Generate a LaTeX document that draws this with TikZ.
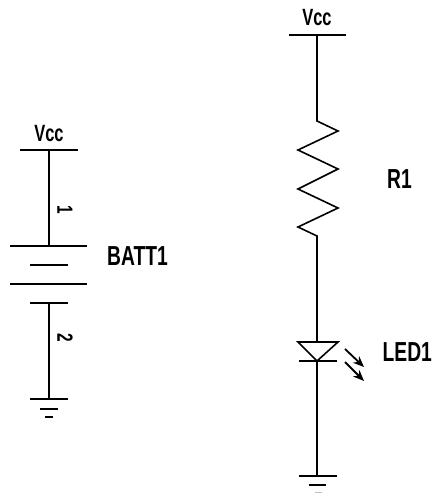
\documentclass[tikz,border=0pt]{standalone}
\usepackage{fontspec}
\setmainfont[FakeStretch=0.7,BoldFont={Liberation Sans Bold},BoldFeatures={FakeStretch=0.7}]{Liberation Sans}
\usetikzlibrary{arrows.meta}
\tikzset{
  wire/.style={draw=black,line width=1.6pt},
  lbl/.style={inner sep=0pt,font=\bfseries\fontsize{27.5}{28}\selectfont,anchor=west},
  vcc/.style={inner sep=0pt,font=\bfseries\fontsize{23.5}{24}\selectfont},
  pin/.style={inner sep=0pt,font=\bfseries\fontsize{22}{22}\selectfont,rotate=-90},
  ray/.style={draw=black,line width=1.8pt,-{Stealth[length=11pt,width=9pt]}}
}
\begin{document}
\begin{tikzpicture}[x=1pt,y=-1pt]
\useasboundingbox (0,0) rectangle (434,493);
% battery
\coordinate (lvl) at (20,150); \coordinate (lvr) at (78,150); \coordinate (lvm) at (49,150);
\coordinate (b1l) at (10,246); \coordinate (b1r) at (87,246); \coordinate (b1m) at (49,246);
\coordinate (b2l) at (30,265); \coordinate (b2r) at (68,265);
\coordinate (b3l) at (10,284); \coordinate (b3r) at (87,284);
\coordinate (b4l) at (30,303); \coordinate (b4r) at (68,303); \coordinate (b4m) at (49,303);
\coordinate (g1l) at (30,399); \coordinate (g1r) at (68,399); \coordinate (g1m) at (49,399);
\coordinate (g2l) at (40,409); \coordinate (g2r) at (58,409);
\coordinate (g3l) at (45,417); \coordinate (g3r) at (53,417);
\node[vcc] (vccl) at (49,134) {Vcc};
\node[pin] (pin1) at (65,210) {1};
\node[pin] (pin2) at (65,338) {2};
\node[lbl] (batt) at (107,256) {BATT1};
\draw[wire] (lvl) -- (lvr);
\draw[wire] (lvm) -- (b1m);
\draw[wire] (b1l) -- (b1r);
\draw[wire] (b2l) -- (b2r);
\draw[wire] (b3l) -- (b3r);
\draw[wire] (b4l) -- (b4r);
\draw[wire] (b4m) -- (g1m);
\draw[wire] (g1l) -- (g1r);
\draw[wire] (g2l) -- (g2r);
\draw[wire] (g3l) -- (g3r);
% LED branch
\coordinate (rvl) at (289,35); \coordinate (rvr) at (346,35); \coordinate (rvm) at (317,35);
\coordinate (r0) at (317,121); \coordinate (r1) at (338,131); \coordinate (r2) at (298,150);
\coordinate (r3) at (338,169); \coordinate (r4) at (298,189); \coordinate (r5) at (338,208);
\coordinate (r6) at (298,227); \coordinate (r7) at (317,236);
\coordinate (tm) at (317,342); \coordinate (tl) at (298,342); \coordinate (tr) at (338,342);
\coordinate (tb) at (317,361); \coordinate (cl) at (299,361); \coordinate (cr) at (337,361);
\coordinate (a1s) at (345,349); \coordinate (a1e) at (364,367);
\coordinate (a2s) at (345,362); \coordinate (a2e) at (364,381);
\coordinate (h1l) at (299,476); \coordinate (h1r) at (337,476); \coordinate (h1m) at (317,476);
\coordinate (h2l) at (309,485); \coordinate (h2r) at (326,485);
\coordinate (h3l) at (315,492.6); \coordinate (h3r) at (322,492.6);
\node[vcc] (vccr) at (317,18) {Vcc};
\node[lbl] (r1lbl) at (387,179) {R1};
\node[lbl] (led) at (382.5,352) {LED1};
\draw[wire] (rvl) -- (rvr);
\draw[wire,line join=miter] (rvm) -- (r0) -- (r1) -- (r2) -- (r3) -- (r4) -- (r5) -- (r6) -- (r7) -- (tm);
\draw[wire] (tl) -- (tr) -- (tb) -- cycle;
\draw[wire] (cl) -- (cr);
\draw[wire] (tb) -- (h1m);
\draw[ray] (a1s) -- (a1e);
\draw[ray] (a2s) -- (a2e);
\draw[wire] (h1l) -- (h1r);
\draw[wire] (h2l) -- (h2r);
\draw[draw=black!25,line width=1.6pt] (h3l) -- (h3r);
\end{tikzpicture}
\end{document}
